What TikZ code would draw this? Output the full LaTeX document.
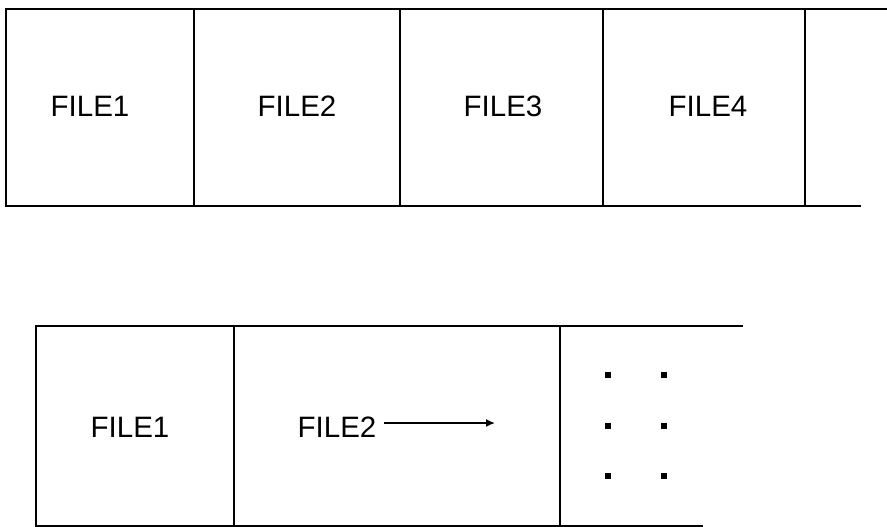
\documentclass[tikz,border=0pt]{standalone}
\usepackage{fontspec}
\setmainfont{Liberation Sans}
\usetikzlibrary{arrows,arrows.meta,positioning}

\begin{document}
\begin{tikzpicture}[
x=1pt, y=-1pt,
boxline/.style={line width=1.8pt, line cap=rect},
filelabel/.style={anchor=base, inner sep=0pt, font=\fontsize{29.5}{29.5}\selectfont}]
\useasboundingbox (0,0) rectangle (887,527);
% Upper row
\draw[boxline] (887,9) -- (6,9) -- (6,206) -- (860,206);
\foreach \x in {194,400,603,805}
  \draw[boxline] (\x,9) -- (\x,206);
\node[filelabel] (u1) at (90,117) {FILE1};
\node[filelabel] (u2) at (297,117) {FILE2};
\node[filelabel] (u3) at (503,117) {FILE3};
\node[filelabel] (u4) at (708,117) {FILE4};
% Lower row
\draw[boxline] (742,326) -- (36,326) -- (36,526) -- (702,526);
\foreach \x in {234,560}
  \draw[boxline] (\x,326) -- (\x,526);
\node[filelabel] (l1) at (130,437) {FILE1};
\node[filelabel] (l2) at (337,437) {FILE2};
% Dots
\foreach \x in {608,664}
  \foreach \y in {375,426,476}
    \fill (\x-2.8,\y-2.8) rectangle (\x+2.8,\y+2.8);
% Lines
\coordinate (l2end) at (495,423);
\draw[line width=1.5pt, arrows={-Latex[length=9pt,width=8pt]}] (l2.east |- l2end) ++(7,0) -- (l2end);
\end{tikzpicture}
\end{document}
